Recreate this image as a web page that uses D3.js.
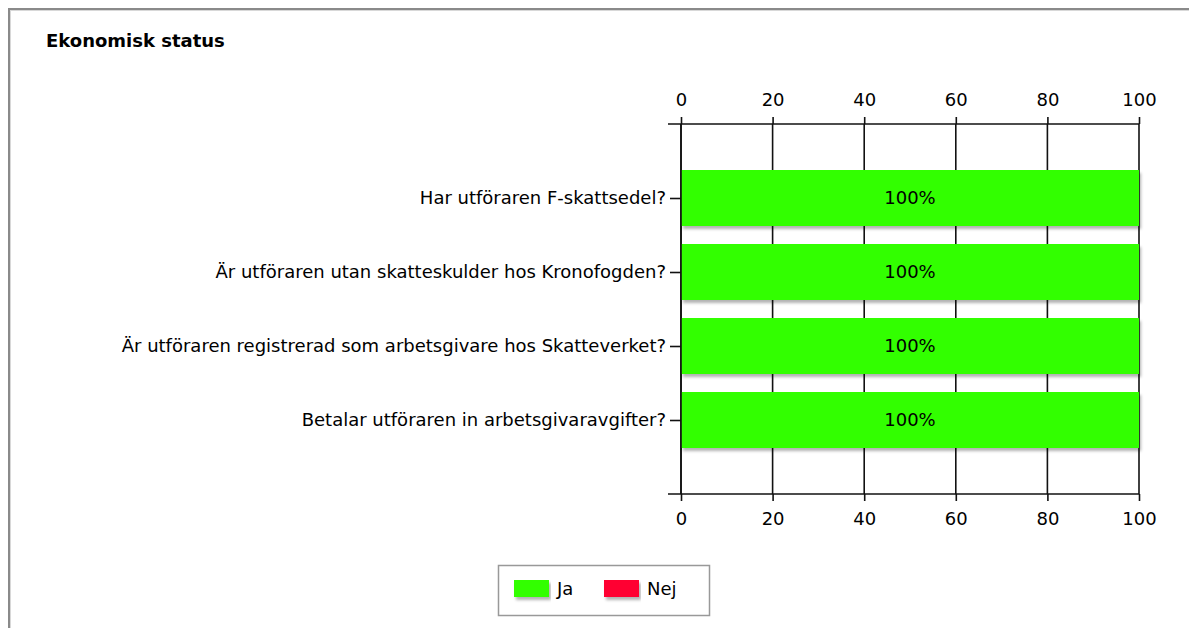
<!DOCTYPE html>
<html>
<head>
<meta charset="utf-8">
<script src="https://cdn.jsdelivr.net/npm/d3@7"></script>
<style>
  html, body { margin: 0; padding: 0; background: #fff; }
  svg { display: block; }
  text { font-family: "DejaVu Sans", Verdana, sans-serif; }
</style>
</head>
<body>
<svg id="chart" width="1189" height="628"></svg>
<script>
// Survey questions and share of "Ja" answers (percent)
const categories = [
  "Har utföraren F-skattsedel?",
  "Är utföraren utan skatteskulder hos Kronofogden?",
  "Är utföraren registrerad som arbetsgivare hos Skatteverket?",
  "Betalar utföraren in arbetsgivaravgifter?"
];
const jaValues = [100, 100, 100, 100];
const nejValues = [0, 0, 0, 0];
const tickValues = [0, 20, 40, 60, 80, 100];
const seriesNames = ["Ja", "Nej"];
const seriesColors = ["#33ff00", "#ff0033"];
const title = "Ekonomisk status";

const FS = 18;
const svg = d3.select("#chart");

// Panel frame
svg.append("rect")
  .attr("x", 9).attr("y", 9)
  .attr("width", 1300).attr("height", 700)
  .attr("fill", "#fff")
  .attr("stroke", "#8a8a8a").attr("stroke-width", 2);
svg.append("rect")
  .attr("x", 10.5).attr("y", 10.5)
  .attr("width", 1300).attr("height", 700)
  .attr("fill", "none")
  .attr("stroke", "#d8d8d8").attr("stroke-width", 1);

svg.append("text")
  .attr("x", 46).attr("y", 47)
  .attr("font-size", FS).attr("font-weight", "bold")
  .attr("fill", "#000")
  .text(title);

const plot = { left: 681, right: 1139, top: 124, bottom: 494 };

const x = d3.scaleLinear().domain([0, 100]).range([plot.left, plot.right]);
const y = d3.scalePoint().domain(categories).range([plot.top, plot.bottom]).padding(1);
const barH = 56;

// Shadow filter for bars and legend swatches
const defs = svg.append("defs");
const f = defs.append("filter").attr("id", "shadow")
  .attr("x", "-5%").attr("y", "-20%").attr("width", "110%").attr("height", "150%");
f.append("feDropShadow")
  .attr("dx", 2).attr("dy", 3).attr("stdDeviation", 1.6)
  .attr("flood-color", "#000").attr("flood-opacity", 0.3);

// Vertical grid lines
svg.append("g")
  .selectAll("line")
  .data(tickValues)
  .join("line")
  .attr("x1", d => x(d)).attr("x2", d => x(d))
  .attr("y1", plot.top).attr("y2", plot.bottom)
  .attr("stroke", "#111").attr("stroke-width", 1.6);

// Bars: Ja stacked with Nej
const rows = categories.map((c, i) => ({ c, ja: jaValues[i], nej: nejValues[i] }));
const barG = svg.append("g");
barG.selectAll("rect.ja")
  .data(rows)
  .join("rect")
  .attr("class", "ja")
  .attr("x", x(0))
  .attr("y", d => y(d.c) - barH / 2)
  .attr("width", d => x(d.ja) - x(0))
  .attr("height", barH)
  .attr("fill", seriesColors[0])
  .attr("filter", "url(#shadow)");
barG.selectAll("rect.nej")
  .data(rows.filter(d => d.nej > 0))
  .join("rect")
  .attr("class", "nej")
  .attr("x", d => x(d.ja))
  .attr("y", d => y(d.c) - barH / 2)
  .attr("width", d => x(d.ja + d.nej) - x(d.ja))
  .attr("height", barH)
  .attr("fill", seriesColors[1])
  .attr("filter", "url(#shadow)");

// Value labels
barG.selectAll("text")
  .data(rows)
  .join("text")
  .attr("x", d => (x(0) + x(d.ja)) / 2)
  .attr("y", d => y(d.c))
  .attr("dy", "0.35em")
  .attr("text-anchor", "middle")
  .attr("font-size", FS)
  .attr("fill", "#000")
  .text(d => d.ja + "%");

// Left edge of plot redrawn over the bars
svg.append("line")
  .attr("x1", plot.left).attr("x2", plot.left)
  .attr("y1", plot.top).attr("y2", plot.bottom)
  .attr("stroke", "#111").attr("stroke-width", 1.6);

// Axes
function styleAxis(g) {
  g.select(".domain").remove();
  g.selectAll(".tick line").attr("stroke", "#111").attr("stroke-width", 1.6);
  g.selectAll(".tick text").attr("font-size", FS).attr("fill", "#000")
    .attr("font-family", "DejaVu Sans, Verdana, sans-serif");
}

svg.append("g").attr("transform", `translate(0,${plot.top})`)
  .call(d3.axisTop(x).tickValues(tickValues).tickSize(7).tickPadding(11))
  .call(styleAxis);
svg.append("g").attr("transform", `translate(0,${plot.bottom})`)
  .call(d3.axisBottom(x).tickValues(tickValues).tickSize(7).tickPadding(11))
  .call(styleAxis);

// Horizontal axis lines extending left past the plot
[plot.top, plot.bottom].forEach(yy => {
  svg.append("line")
    .attr("x1", plot.left - 13).attr("x2", plot.right)
    .attr("y1", yy).attr("y2", yy)
    .attr("stroke", "#111").attr("stroke-width", 1.6);
});

svg.append("g").attr("transform", `translate(${plot.left},0)`)
  .call(d3.axisLeft(y).tickSize(11).tickPadding(4))
  .call(styleAxis);

// Legend
const lg = svg.append("g").attr("transform", "translate(498,565)");
lg.append("rect")
  .attr("x", 0.5).attr("y", 0.5).attr("width", 211).attr("height", 50)
  .attr("fill", "#fff").attr("stroke", "#999").attr("stroke-width", 1.5);
const legendX = [16, 106];
const items = lg.selectAll("g.item")
  .data(seriesNames)
  .join("g")
  .attr("class", "item")
  .attr("transform", (d, i) => `translate(${legendX[i]},15)`);
items.append("rect")
  .attr("width", 35).attr("height", 17)
  .attr("fill", (d, i) => seriesColors[i])
  .attr("filter", "url(#shadow)");
items.append("text")
  .attr("x", 43).attr("y", 9).attr("dy", "0.35em")
  .attr("font-size", FS).attr("fill", "#000")
  .text(d => d);
</script>
</body>
</html>
